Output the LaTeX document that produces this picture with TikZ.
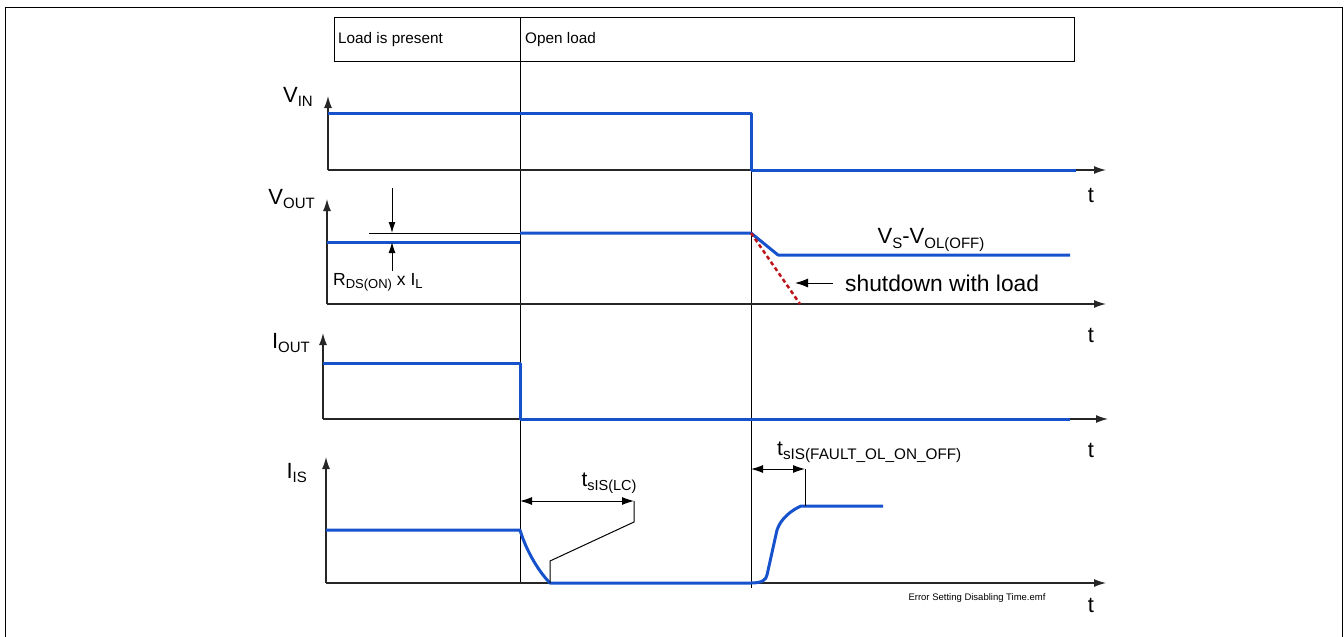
\documentclass[tikz,border=0pt]{standalone}
\usepackage{fontspec}
\setmainfont{Liberation Sans}
\usetikzlibrary{arrows.meta}

\definecolor{sigblue}{RGB}{22,82,204}
\definecolor{loadred}{RGB}{190,20,25}
% lowered index text as in the datasheet labels
\newcommand{\lowtxt}[2][15]{\raisebox{-0.35ex}{\fontsize{#1}{#1}\selectfont #2}}

\begin{document}
\begin{tikzpicture}[x=1pt,y=-1pt,
    sig/.style={draw=sigblue,line width=3pt,line join=round},
    axis/.style={draw=black!85,line width=1.3pt,-{Latex[length=12pt,width=8pt]}},
    thin/.style={draw=black,line width=1pt},
    dimarrow/.style={thin,{Latex[length=12pt,width=8pt]}-{Latex[length=12pt,width=8pt]}},
    onearrow/.style={thin,-{Latex[length=11pt,width=7pt]}},
    biglbl/.style={font=\fontsize{22}{24}\selectfont,inner sep=0pt},
    boxlbl/.style={font=\fontsize{15.3}{18}\selectfont,inner sep=0pt,anchor=west}]
    \useasboundingbox (0,0) rectangle (1344,637);
    % Draw the frame and the header
    \draw[thin] (5,637) -- (5,7) -- (1342,7) -- (1342,637);
    \draw[thin] (334,17) rectangle (1074,61);
    \node[boxlbl] (present) at (338,40) {Load is present};
    \node[boxlbl] (open) at (525,40) {Open load};
    % Draw the event lines
    \draw[thin] (520,17) -- (520,583);
    \draw[thin] (751,113) -- (751,588);
    % Draw the axes
    \foreach \x/\top/\base/\tend in {328/96/170/1106, 327/199/304/1106, 323/333/419/1108, 326/457/583/1106}
    {
        \draw[axis] (\x,\base) -- (\x,\top);
        \draw[axis] (\x,\base) -- (\tend,\base);
    }
    \foreach \y/\n in {195/1, 335/2, 450/3, 605/4}
        \node[biglbl] (t\n) at (1091,\y) {t};
    % Draw the signal names
    \node[biglbl,anchor=east] (vin) at (313,97) {V\lowtxt{IN}};
    \node[biglbl,anchor=east] (vout) at (315,199) {V\lowtxt{OUT}};
    \node[biglbl,anchor=east] (iout) at (310,343) {I\lowtxt{OUT}};
    \node[biglbl,anchor=east] (iis) at (307,473) {I\lowtxt{IS}};
    % Draw the signals
    \draw[sig] (328,113) -- (751,113) -- (751,170) -- (1076,170);
    \draw[sig] (327,242) -- (520,242);
    \draw[sig] (520,233) -- (751,233) -- (778,255) -- (1070,255);
    \draw[loadred,line width=2.5pt,dash pattern=on 4pt off 3pt] (751,233) -- (800,304);
    \draw[sig] (323,363) -- (520,363) -- (520,419) -- (1070,419);
    \draw[sig] (326,530) -- (520,530) .. controls (527,553) and (540,573) .. (550,583)
        -- (751,583) .. controls (762,583) and (766,580) .. (767,575)
        -- (777,530) .. controls (781,518) and (792,510) .. (801,506) -- (883,506);
    % Draw the V_OUT notes
    \draw[thin] (369,233) -- (520,233);
    \draw[onearrow] (392,188) -- (392,233);
    \draw[onearrow] (392,271) -- (392,242);
    \node[font=\fontsize{17.5}{20}\selectfont,inner sep=0pt,anchor=west] (rds) at (333,282)
        {R\lowtxt[13]{DS(ON)} x I\lowtxt[13]{L}};
    \node[biglbl] (vsol) at (931,240) {V\lowtxt{S}-V\lowtxt{OL(OFF)}};
    \node[font=\fontsize{22.8}{25}\selectfont,inner sep=0pt,anchor=west] (shut) at (845,283) {shutdown with load};
    \draw[thin,-{Latex[length=13pt,width=9pt]}] (833,283) -- (795,283);
    % Draw the I_IS timing notes
    \draw[dimarrow] (520,501) -- (634,501);
    \draw[thin] (634,501) -- (634,522) -- (550,561) -- (550,583);
    \node[font=\fontsize{21}{22}\selectfont,inner sep=0pt] (tlc) at (609,483) {t\lowtxt[14.5]{sIS(LC)}};
    \draw[dimarrow] (751,469) -- (805,469);
    \draw[thin] (805,469) -- (805,506);
    \node[font=\fontsize{21}{22}\selectfont,inner sep=0pt,anchor=west] (tfault) at (777,452)
        {t\lowtxt[15.3]{sIS(FAULT\_OL\_ON\_OFF)}};
    \node[font=\fontsize{9.5}{11}\selectfont,inner sep=0pt] (file) at (977,598) {Error Setting Disabling Time.emf};
\end{tikzpicture}
\end{document}
